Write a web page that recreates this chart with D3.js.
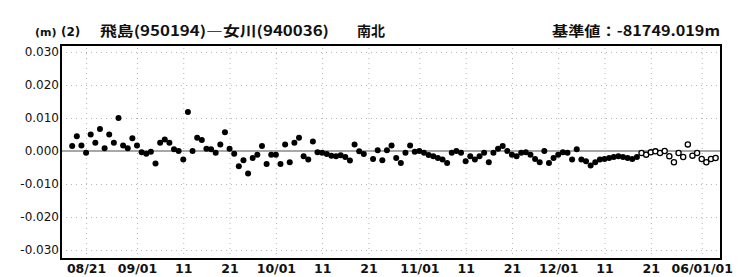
<!DOCTYPE html>
<html lang="ja">
<head>
  <meta charset="UTF-8">
  <title>飛島(950194)―女川(940036) 南北</title>
  <script src="https://d3js.org/d3.v7.min.js"></script>
  <style>
    body { margin: 0; background: #fff; }
    text { font-family: "DejaVu Sans", sans-serif; fill: #111; }
  </style>
</head>
<body>
  <svg width="744" height="277"></svg>

  <script>
    // daily F2 solutions (m), one value per day from the start date, null = no solution
    const fixedStart = "2005-08-18";
    const fixedValues = [
      0.0015, 0.0045, 0.0017, -0.0005, 0.0050, 0.0025, 0.0067, 0.0008, 0.0050, 0.0025,
      0.0100, 0.0017, 0.0008, 0.0039, 0.0017, -0.0004, -0.0008, -0.0002, -0.0038, 0.0025,
      0.0035, 0.0025, 0.0005, 0.0000, -0.0026, 0.0118, 0.0000,
      0.0040, 0.0033, 0.0007, 0.0005, -0.0005, 0.0020, 0.0057, 0.0007, -0.0008, -0.0046,
      -0.0028, -0.0068, -0.0021, -0.0011, 0.0015, -0.0039, -0.0011, -0.0011, -0.0039, 0.0020,
      -0.0034, 0.0025, 0.0040, -0.0016, -0.0026, 0.0029, -0.0004,
      -0.0005, -0.0009, -0.0014, -0.0016, -0.0013, -0.0018, -0.0029, 0.0020, -0.0001, -0.0009,
      null,
      -0.0024, 0.0002, -0.0028, 0.0002, 0.0017, -0.0021, -0.0036, -0.0005, 0.0017, -0.0002,
      0.0000, -0.0005, -0.0012, -0.0016, -0.0021, -0.0026, -0.0036, -0.0005,
      0.0000, -0.0005, -0.0031, -0.0016, -0.0026, -0.0016, -0.0005, -0.0034, -0.0005, 0.0007,
      0.0015, 0.0000, -0.0011, -0.0016, -0.0005, -0.0004, -0.0011, -0.0024, -0.0034, 0.0000,
      -0.0036, -0.0021, -0.0011, -0.0004, -0.0005, -0.0026, 0.0005, -0.0026, -0.0031,
      -0.0044, -0.0034, -0.0026, -0.0024, -0.0021, -0.0018, -0.0016, -0.0018, -0.0021, -0.0024,
      -0.0018
    ];
    // rapid (R3) solutions, drawn as open circles
    const rapidStart = "2005-12-19";
    const rapidValues = [
      -0.0006, -0.0011, -0.0004, -0.0001, -0.0006, 0.0000, -0.0016, -0.0034, -0.0006, -0.0018,
      0.0020, -0.0014, -0.0006, -0.0024, -0.0034, -0.0024, -0.0021
    ];

    const xTickDates = ["2005-08-21", "2005-09-01", "2005-09-11", "2005-09-21", "2005-10-01",
      "2005-10-11", "2005-10-21", "2005-11-01", "2005-11-11", "2005-11-21", "2005-12-01",
      "2005-12-11", "2005-12-21", "2006-01-01"];
    const xTickLabels = ["08/21", "09/01", "11", "21", "10/01", "11", "21", "11/01", "11", "21",
      "12/01", "11", "21", "06/01/01"];
    const yTicks = [0.03, 0.02, 0.01, 0, -0.01, -0.02, -0.03];
    const yTickLabels = ["0.030", "0.020", "0.010", "0.000", "-0.010", "-0.020", "-0.030"];

    const parse = d3.timeParse("%Y-%m-%d");
    const toPoints = (start, vals) => vals
      .map((v, i) => ({ date: d3.timeDay.offset(parse(start), i), value: v }))
      .filter(d => d.value !== null);
    const fixed = toPoints(fixedStart, fixedValues);
    const rapid = toPoints(rapidStart, rapidValues);

    const svg = d3.select("svg");
    const plotL = 61, plotR = 721, plotT = 45, plotB = 259;

    const x = d3.scaleTime()
        .domain([new Date(2005, 7, 15, 14), new Date(2006, 0, 5, 4)])
        .range([plotL, plotR]);
    const y = d3.scaleLinear()
        .domain([-0.0327, 0.0321])
        .range([plotB, plotT]);

    // dotted grid
    svg.append("g")
        .attr("transform", `translate(0,${plotB})`)
        .call(d3.axisBottom(x).tickValues(xTickDates.map(parse)).tickSize(-(plotB - plotT)).tickFormat(""))
        .call(g => g.select(".domain").remove())
        .call(g => g.selectAll("line").attr("stroke", "#b4b4b4").attr("stroke-dasharray", "1,4"));
    svg.append("g")
        .attr("transform", `translate(${plotL},0)`)
        .call(d3.axisLeft(y).tickValues(yTicks.filter(d => d !== 0)).tickSize(-(plotR - plotL)).tickFormat(""))
        .call(g => g.select(".domain").remove())
        .call(g => g.selectAll("line").attr("stroke", "#b4b4b4").attr("stroke-dasharray", "1,4"));

    // zero line
    svg.append("line")
        .attr("x1", plotL).attr("x2", plotR)
        .attr("y1", y(0)).attr("y2", y(0))
        .attr("stroke", "#8a8a8a")
        .attr("stroke-width", 1.6);

    // y labels
    svg.append("g")
        .attr("transform", `translate(${plotL},0)`)
        .call(d3.axisLeft(y).tickValues(yTicks).tickSize(0).tickPadding(2)
          .tickFormat((d, i) => yTickLabels[i]))
        .call(g => g.select(".domain").remove())
        .call(g => g.selectAll("text")
          .style("font-size", "12px")
          .style("font-family", "DejaVu Sans, sans-serif")
          .attr("fill", "#1a1a1a"));

    // x labels
    svg.append("g")
        .attr("transform", `translate(0,${plotB})`)
        .call(d3.axisBottom(x).tickValues(xTickDates.map(parse)).tickSize(0).tickPadding(5)
          .tickFormat((d, i) => xTickLabels[i]))
        .call(g => g.select(".domain").remove())
        .call(g => g.selectAll("text")
          .style("font-size", "12.5px")
          .style("font-weight", "bold")
          .style("font-family", "DejaVu Sans, sans-serif")
          .attr("fill", "#111"));

    // points
    svg.append("g").selectAll("circle")
        .data(fixed)
        .join("circle")
        .attr("cx", d => x(d.date))
        .attr("cy", d => y(d.value))
        .attr("r", 3)
        .attr("fill", "#000");

    svg.append("g").selectAll("circle")
        .data(rapid)
        .join("circle")
        .attr("cx", d => x(d.date))
        .attr("cy", d => y(d.value))
        .attr("r", 2.6)
        .attr("fill", "#fff")
        .attr("stroke", "#000")
        .attr("stroke-width", 1.3);

    // frame
    svg.append("rect")
        .attr("x", plotL).attr("y", plotT)
        .attr("width", plotR - plotL).attr("height", plotB - plotT)
        .attr("fill", "none")
        .attr("stroke", "#000")
        .attr("stroke-width", 2);

    // header texts
    const cjk = '"Noto Sans CJK JP", sans-serif';
    svg.append("text").attr("x", 35).attr("y", 36)
        .style("font-size", "11px").style("font-weight", "bold").text("(m)");
    svg.append("text").attr("x", 61).attr("y", 36)
        .style("font-size", "12px").style("font-weight", "bold").text("(2)");
    svg.append("text").attr("x", 100).attr("y", 36)
        .attr("textLength", 229).attr("lengthAdjust", "spacingAndGlyphs")
        .style("font-family", cjk).style("font-size", "14px").style("font-weight", "bold")
        .text("飛島(950194)―女川(940036)");
    svg.append("text").attr("x", 357).attr("y", 36)
        .style("font-family", cjk).style("font-size", "14px").style("font-weight", "bold")
        .text("南北");
    svg.append("text").attr("x", 720).attr("y", 36)
        .attr("text-anchor", "end")
        .attr("textLength", 168).attr("lengthAdjust", "spacingAndGlyphs")
        .style("font-family", cjk).style("font-size", "14px").style("font-weight", "bold")
        .text("基準値：-81749.019m");
  </script>
</body>
</html>
